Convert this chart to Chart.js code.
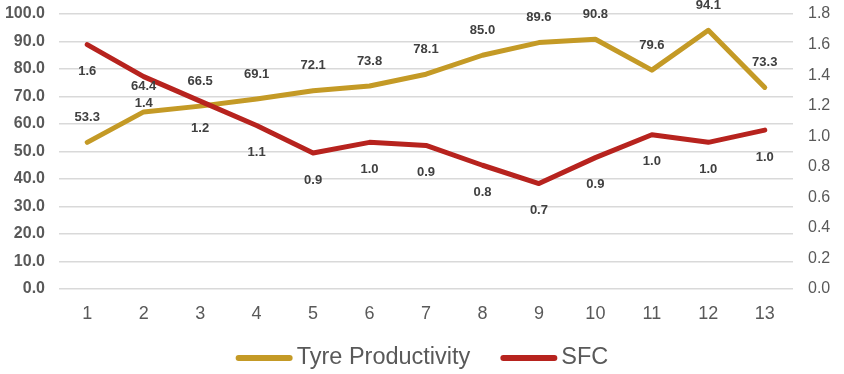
<!DOCTYPE html>
<html>
<head>
<meta charset="utf-8">
<script src="https://cdn.jsdelivr.net/npm/chart.js@4/dist/chart.umd.min.js"></script>
<style>
  html, body { margin: 0; padding: 0; background: #ffffff; }
  #wrap { width: 844px; height: 374px; position: relative; }
</style>
</head>
<body>
<div id="wrap"><canvas id="chart" width="844" height="374"></canvas></div>
<script>
// Periods along the x axis
const categories = ['1', '2', '3', '4', '5', '6', '7', '8', '9', '10', '11', '12', '13'];

// Tyre productivity (left axis)
const tyreProductivity = [53.3, 64.4, 66.5, 69.1, 72.1, 73.8, 78.1, 85.0, 89.6, 90.8, 79.6, 94.1, 73.3];

// Specific fuel consumption (right axis)
const sfc = [1.60, 1.39, 1.23, 1.07, 0.89, 0.96, 0.94, 0.81, 0.69, 0.86, 1.01, 0.96, 1.04];

const GOLD = '#C49A26';
const RED = '#B7231E';
const GRID = '#d9d9d9';
const TICK = '#595959';
const FONT = 'Liberation Sans, Arial, Helvetica, sans-serif';

// Value labels: productivity above each point, SFC below each point
const valueLabels = {
  id: 'valueLabels',
  afterDatasetsDraw(chart) {
    const ctx = chart.ctx;
    ctx.save();
    ctx.font = 'bold 13px ' + FONT;
    ctx.fillStyle = '#404040';
    ctx.textAlign = 'center';
    ctx.textBaseline = 'middle';
    chart.data.datasets.forEach((ds, i) => {
      const meta = chart.getDatasetMeta(i);
      const dy = ds.labelOffset;
      meta.data.forEach((pt, j) => {
        ctx.fillText(Number(ds.data[j]).toFixed(1), pt.x, pt.y + dy);
      });
    });
    ctx.restore();
  }
};

// Legend row under the axis: a thick line sample followed by the series name
const lineLegend = {
  id: 'lineLegend',
  afterDraw(chart) {
    const ctx = chart.ctx;
    const sample = 51, cap = 3, gap = 4, between = 30;
    ctx.save();
    ctx.font = '23.5px ' + FONT;
    const items = chart.data.datasets.map(ds => ({
      text: ds.label,
      color: ds.borderColor,
      w: ctx.measureText(ds.label).width
    }));
    const total = items.reduce((s, it) => s + cap * 2 + sample + gap + it.w, 0) + between * (items.length - 1);
    let x = (chart.width - total) / 2;
    const y = 358;
    ctx.textBaseline = 'middle';
    ctx.textAlign = 'left';
    items.forEach(it => {
      ctx.strokeStyle = it.color;
      ctx.lineWidth = 6;
      ctx.lineCap = 'round';
      ctx.beginPath();
      ctx.moveTo(x + cap, y);
      ctx.lineTo(x + cap + sample, y);
      ctx.stroke();
      x += cap * 2 + sample + gap;
      ctx.fillStyle = TICK;
      ctx.fillText(it.text, x, y);
      x += it.w + between;
    });
    ctx.restore();
  }
};

new Chart(document.getElementById('chart'), {
  type: 'line',
  data: {
    labels: categories,
    datasets: [
      {
        label: 'Tyre Productivity',
        data: tyreProductivity,
        yAxisID: 'y',
        borderColor: GOLD,
        backgroundColor: GOLD,
        borderWidth: 5,
        borderCapStyle: 'round',
        borderJoinStyle: 'round',
        pointRadius: 0,
        tension: 0,
        order: 2,
        labelOffset: -25
      },
      {
        label: 'SFC',
        data: sfc,
        yAxisID: 'y1',
        borderColor: RED,
        backgroundColor: RED,
        borderWidth: 5,
        borderCapStyle: 'round',
        borderJoinStyle: 'round',
        pointRadius: 0,
        tension: 0,
        order: 1,
        labelOffset: 27
      }
    ]
  },
  options: {
    responsive: false,
    animation: false,
    layout: { padding: { top: 14, left: 0, right: 0, bottom: 47 } },
    plugins: {
      tooltip: { enabled: false },
      legend: { display: false }
    },
    scales: {
      x: {
        offset: true,
        grid: { display: false },
        border: { display: false },
        ticks: { color: TICK, font: { family: FONT, size: 18 }, padding: 6, maxRotation: 0 },
        afterFit(scale) { scale.height = 38; scale.paddingLeft = 0; scale.paddingRight = 0; }
      },
      y: {
        position: 'left',
        min: 0,
        max: 100,
        ticks: {
          stepSize: 10,
          color: TICK,
          padding: 14,
          font: { family: FONT, size: 16, weight: 'bold' },
          callback: v => Number(v).toFixed(1)
        },
        grid: { color: GRID, lineWidth: 1.5, drawTicks: false },
        border: { display: false },
        afterFit(scale) { scale.width = 59; scale.paddingTop = 0; scale.paddingBottom = 0; }
      },
      y1: {
        position: 'right',
        min: 0,
        max: 1.8,
        ticks: {
          stepSize: 0.2,
          color: TICK,
          padding: 15,
          font: { family: FONT, size: 16 },
          callback: v => Number(v).toFixed(1)
        },
        grid: { drawOnChartArea: false, drawTicks: false },
        border: { display: false },
        afterFit(scale) { scale.width = 51; scale.paddingTop = 0; scale.paddingBottom = 0; }
      }
    }
  },
  plugins: [valueLabels, lineLegend]
});
</script>
</body>
</html>
